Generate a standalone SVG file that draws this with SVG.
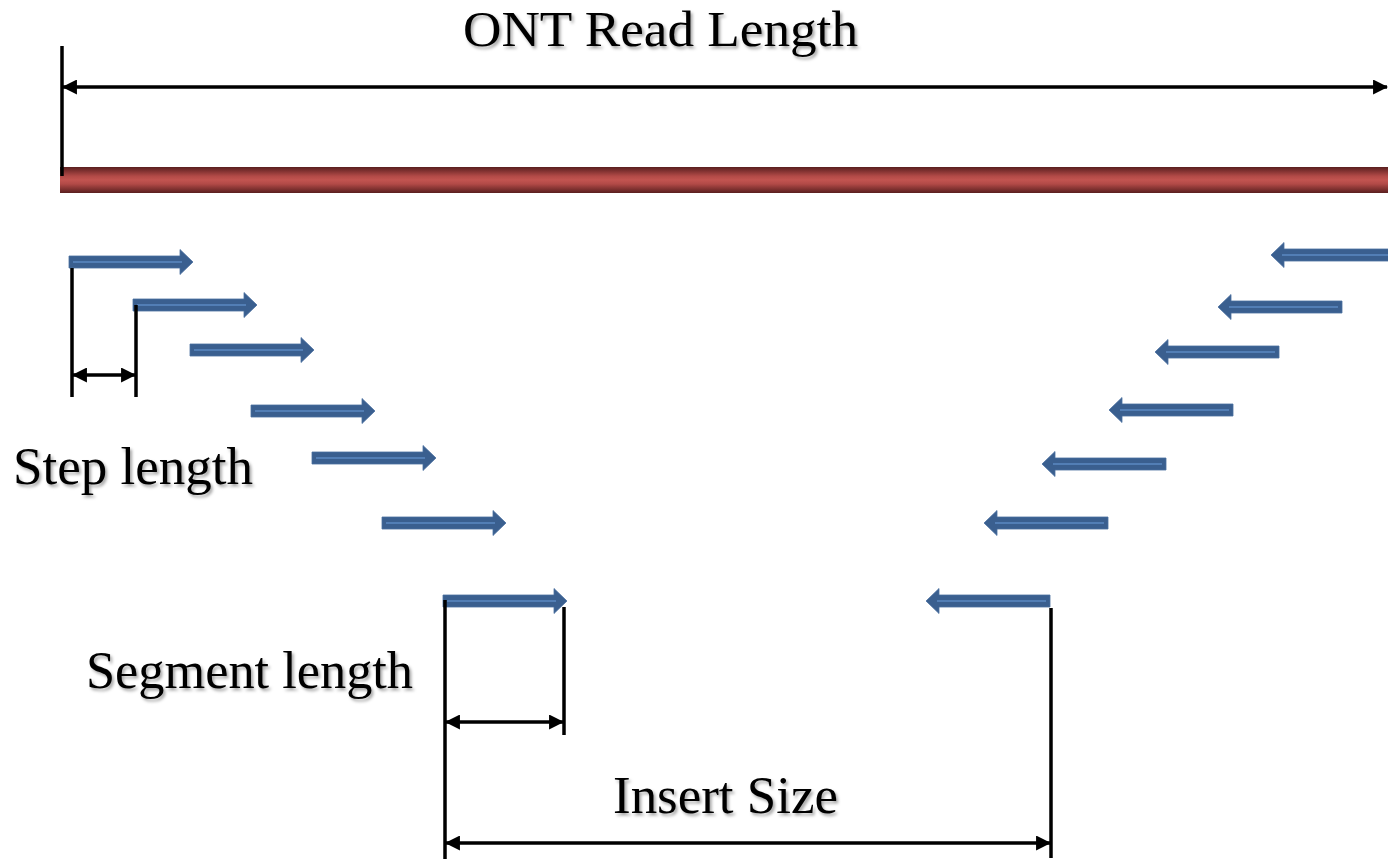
<svg xmlns="http://www.w3.org/2000/svg" width="1388" height="859" viewBox="0 0 1388 859">
  <style>
    .lbl { font-family: "Liberation Serif", "Times New Roman", serif; font-size: 53px; fill: #000; filter: url(#shadow); }
    .top { font-size: 50px; }
    .dim { stroke: #000; stroke-width: 3.5; fill: none; }
    .dimA { stroke: #000; stroke-width: 3.5; fill: none; marker-start: url(#ah); marker-end: url(#ah); }
    .rarrow { fill: #3a5f8f; stroke: #4a6f9f; stroke-width: 0.8; }
    .core { stroke: #5b88c2; stroke-width: 1.6; fill: none; }
  </style>
  <defs>
    <filter id="shadow" x="-5%" y="-20%" width="115%" height="150%">
      <feDropShadow dx="2" dy="2.5" stdDeviation="1.5" flood-color="#000" flood-opacity="0.35"/>
    </filter>
    <linearGradient id="red" x1="0" y1="0" x2="0" y2="1">
      <stop offset="0" stop-color="#5a1f1f"/>
      <stop offset="0.35" stop-color="#b24a47"/>
      <stop offset="0.5" stop-color="#c25450"/>
      <stop offset="0.65" stop-color="#b24a47"/>
      <stop offset="1" stop-color="#5a1f1f"/>
    </linearGradient>
    <marker id="ah" viewBox="0 0 14 14" refX="13" refY="7" markerWidth="15" markerHeight="15" markerUnits="userSpaceOnUse" orient="auto-start-reverse">
      <path d="M0,0 L14,7 L0,14 Z" fill="#000"/>
    </marker>
    <g id="rArr">
      <path class="rarrow" d="M0,-6 H111 V-12.5 L124,0 L111,12.5 V6 H0 Z"/>
      <line class="core" x1="4" y1="0" x2="113" y2="0"/>
    </g>
    <g id="lArr">
      <path class="rarrow" d="M0,0 L13,-12.5 V-6 H124 V6 H13 V12.5 Z"/>
      <line class="core" x1="11" y1="0" x2="120" y2="0"/>
    </g>
  </defs>
  <rect width="1388" height="859" fill="#fff"/>

  <g id="read">
    <rect x="60" y="167" width="1330" height="26" fill="url(#red)"/>
  </g>

  <g id="forward-segments">
    <use href="#rArr" x="69" y="262"/>
    <use href="#rArr" x="133" y="305"/>
    <use href="#rArr" x="190" y="350"/>
    <use href="#rArr" x="251" y="411"/>
    <use href="#rArr" x="312" y="458"/>
    <use href="#rArr" x="382" y="523"/>
    <use href="#rArr" x="443" y="601"/>
  </g>

  <g id="reverse-segments">
    <use href="#lArr" x="1271" y="255"/>
    <use href="#lArr" x="1218" y="307"/>
    <use href="#lArr" x="1155" y="352"/>
    <use href="#lArr" x="1109" y="410"/>
    <use href="#lArr" x="1042" y="464"/>
    <use href="#lArr" x="984" y="523"/>
    <use href="#lArr" x="926" y="601"/>
  </g>

  <g id="connectors">
    <line class="dim" x1="62" y1="46" x2="62" y2="176"/>
    <line class="dimA" x1="63" y1="87" x2="1387" y2="87"/>

    <line class="dim" x1="72" y1="268" x2="72" y2="397"/>
    <line class="dim" x1="136" y1="305" x2="136" y2="397"/>
    <line class="dimA" x1="73" y1="375" x2="135" y2="375"/>

    <line class="dim" x1="445" y1="600" x2="445" y2="859"/>
    <line class="dim" x1="564" y1="607" x2="564" y2="735"/>
    <line class="dimA" x1="446" y1="722" x2="563" y2="722"/>

    <line class="dim" x1="1051" y1="608" x2="1051" y2="858"/>
    <line class="dimA" x1="446" y1="843" x2="1050" y2="843"/>
  </g>

  <g id="labels">
    <text class="lbl top" x="463" y="46" textLength="395" lengthAdjust="spacingAndGlyphs">ONT Read Length</text>
    <text class="lbl" x="13" y="484" textLength="240" lengthAdjust="spacingAndGlyphs">Step length</text>
    <text class="lbl" x="86" y="688" textLength="327" lengthAdjust="spacingAndGlyphs">Segment length</text>
    <text class="lbl" x="613" y="813" textLength="225" lengthAdjust="spacingAndGlyphs">Insert Size</text>
  </g>
</svg>
